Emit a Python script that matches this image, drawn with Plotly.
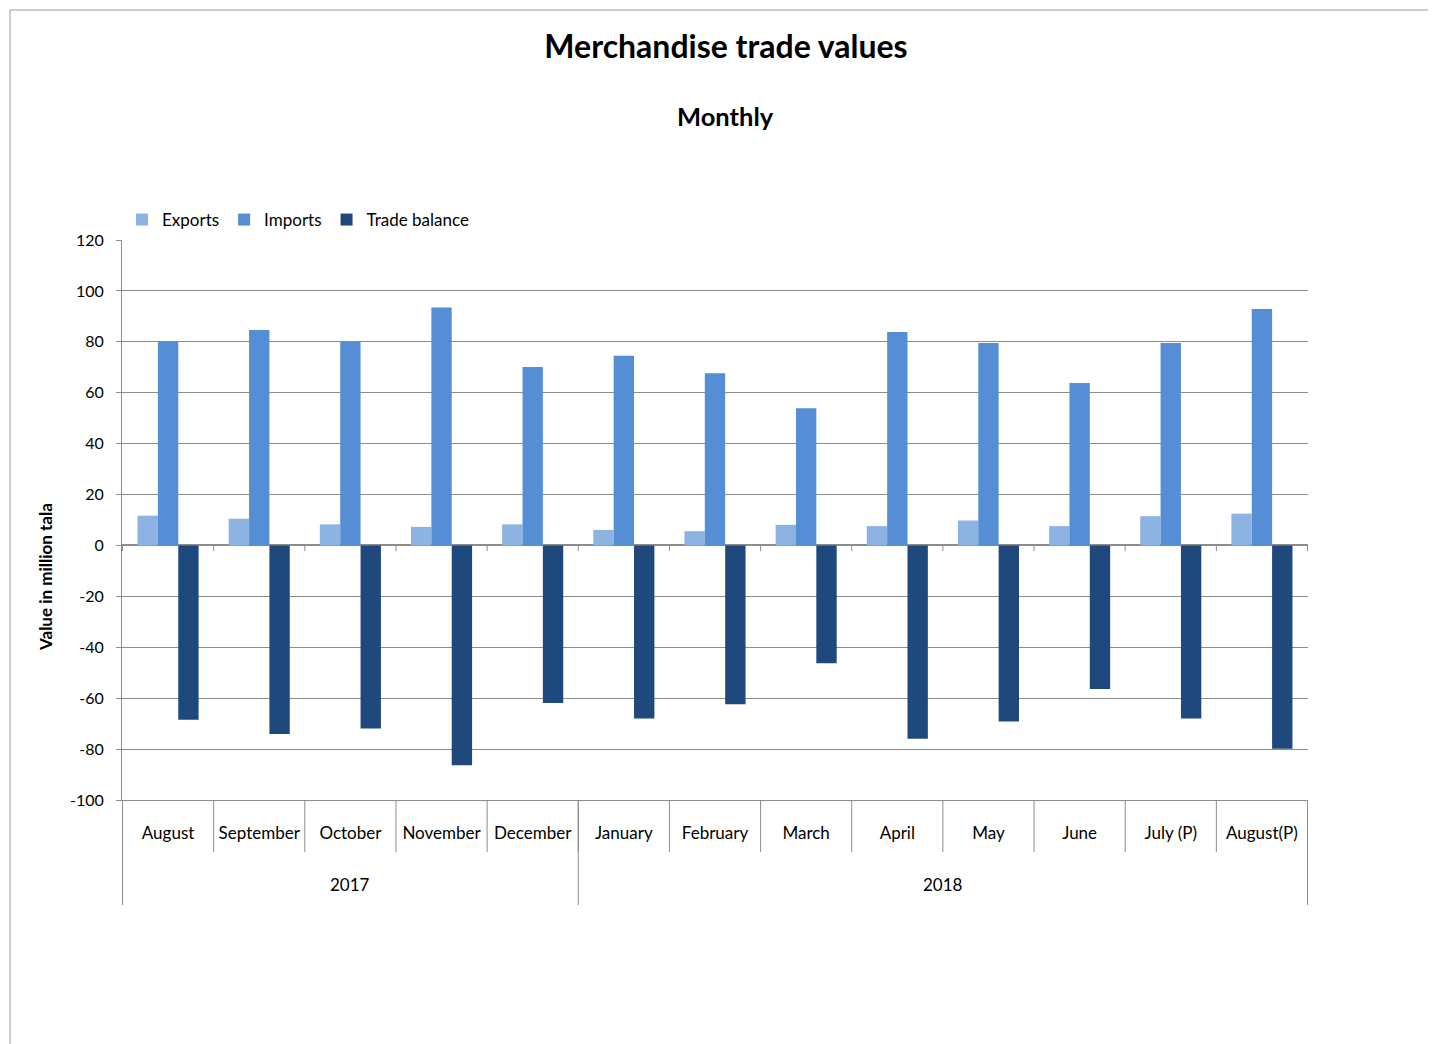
import plotly.graph_objects as go

years = ["2017", "2018"]
year_spans = [(0, 4), (5, 12)]  # index range of months per year
months = ["August", "September", "October", "November", "December", "January",
          "February", "March", "April", "May", "June", "July (P)", "August(P)"]
exports = [11.7, 10.5, 8.3, 7.3, 8.3, 6.1, 5.6, 8.1, 7.6, 9.8, 7.6, 11.5, 12.5]
imports = [80.0, 84.6, 80.0, 93.5, 70.1, 74.5, 67.7, 53.9, 83.9, 79.5, 63.8, 79.5, 92.9]
balance = [-68.5, -74.1, -71.9, -86.3, -61.9, -68.0, -62.4, -46.3, -75.9, -69.2, -56.4, -68.0, -79.9]
y_ticks = [-100, -80, -60, -40, -20, 0, 20, 40, 60, 80, 100, 120]

FONT = "Lato"
GRID = "#8c8c8c"

fig = go.Figure()
fig.add_trace(go.Bar(name="Exports", x=months, y=exports, marker_color="#8DB3E2", marker_line_width=0))
fig.add_trace(go.Bar(name="Imports", x=months, y=imports, marker_color="#558ED5", marker_line_width=0))
fig.add_trace(go.Bar(name="Trade balance", x=months, y=balance, marker_color="#1F497D", marker_line_width=0))

W, H = 1436, 1044
OFF = 8  # page body offset
L, R, T, B = 122, 1308, 240, 800   # target plot area in screenshot pixels
pw, ph = R - L, B - T


def px(X):
    return (X - L) / pw


def py(Y):
    return (B - Y) / ph


shapes = []
# small tick marks on the zero line at category boundaries
for i in range(len(months) + 1):
    shapes.append(dict(type="line", xref="x", yref="y", x0=i - 0.5, x1=i - 0.5,
                       y0=0, y1=-2.2, line=dict(color=GRID, width=1)))
# month dividers below the axis
for i in range(len(months) + 1):
    shapes.append(dict(type="line", xref="x", yref="paper", x0=i - 0.5, x1=i - 0.5,
                       y0=0, y1=py(852), line=dict(color=GRID, width=1)))
# year dividers
bounds = sorted({s - 0.5 for s, e in year_spans} | {e + 0.5 for s, e in year_spans})
for b in bounds:
    shapes.append(dict(type="line", xref="x", yref="paper", x0=b, x1=b,
                       y0=0, y1=py(905), line=dict(color=GRID, width=1)))
# outer frame of the chart area
shapes.append(dict(type="line", xref="paper", yref="paper", x0=px(10), x1=px(1440),
                   y0=py(10), y1=py(10), line=dict(color="#9a9a9a", width=1)))
shapes.append(dict(type="line", xref="paper", yref="paper", x0=px(10), x1=px(10),
                   y0=py(10), y1=py(1050), line=dict(color="#9a9a9a", width=1)))

annotations = [
    dict(text="<b>Monthly</b>", xref="paper", yref="paper", x=px(725), y=py(116),
         xanchor="center", yanchor="middle", showarrow=False,
         font=dict(family=FONT, size=25.5, color="black")),
    dict(text="<b>Value in million tala</b>", xref="paper", yref="paper", x=px(45), y=py(577),
         xanchor="center", yanchor="middle", showarrow=False, textangle=-90,
         font=dict(family=FONT, size=17, color="black")),
]
for yr, (s, e) in zip(years, year_spans):
    annotations.append(dict(text=yr, xref="x", yref="paper", x=(s + e) / 2, y=py(884),
                            xanchor="center", yanchor="middle", showarrow=False,
                            font=dict(family=FONT, size=17, color="black")))

fig.update_layout(
    width=W, height=H,
    margin=dict(l=L - OFF, r=W - (R - OFF), t=T - OFF, b=H - (B - OFF)),
    paper_bgcolor="white", plot_bgcolor="white",
    barmode="group", bargap=0.33, bargroupgap=0,
    font=dict(family=FONT, size=16, color="black"),
    title=dict(text="<b>Merchandise trade values</b>",
               x=(726 - OFF) / W, xref="container", xanchor="center",
               y=1 - (47 - OFF) / H, yanchor="middle",
               font=dict(family=FONT, size=32, color="black")),
    legend=dict(orientation="h", x=px(122), xanchor="left", y=py(220), yanchor="middle",
                font=dict(family=FONT, size=17), traceorder="normal",
                bgcolor="rgba(0,0,0,0)"),
    showlegend=True,
    shapes=shapes,
    annotations=annotations,
)

fig.update_yaxes(range=[-100, 120], tickvals=y_ticks, ticktext=[str(v) for v in y_ticks],
                 showgrid=True, gridcolor=GRID, gridwidth=1,
                 showline=True, linecolor=GRID, linewidth=1, ticks="outside", ticklen=5,
                 tickcolor=GRID, zeroline=True, zerolinecolor=GRID, zerolinewidth=1.5,
                 ticklabelstandoff=9, tickfont=dict(family=FONT, size=16))
fig.update_xaxes(type="category", showline=True, linecolor=GRID, linewidth=1,
                 ticks="", ticklabelstandoff=18, tickangle=0,
                 tickfont=dict(family=FONT, size=17), showgrid=False)

fig.write_html("out.html")
